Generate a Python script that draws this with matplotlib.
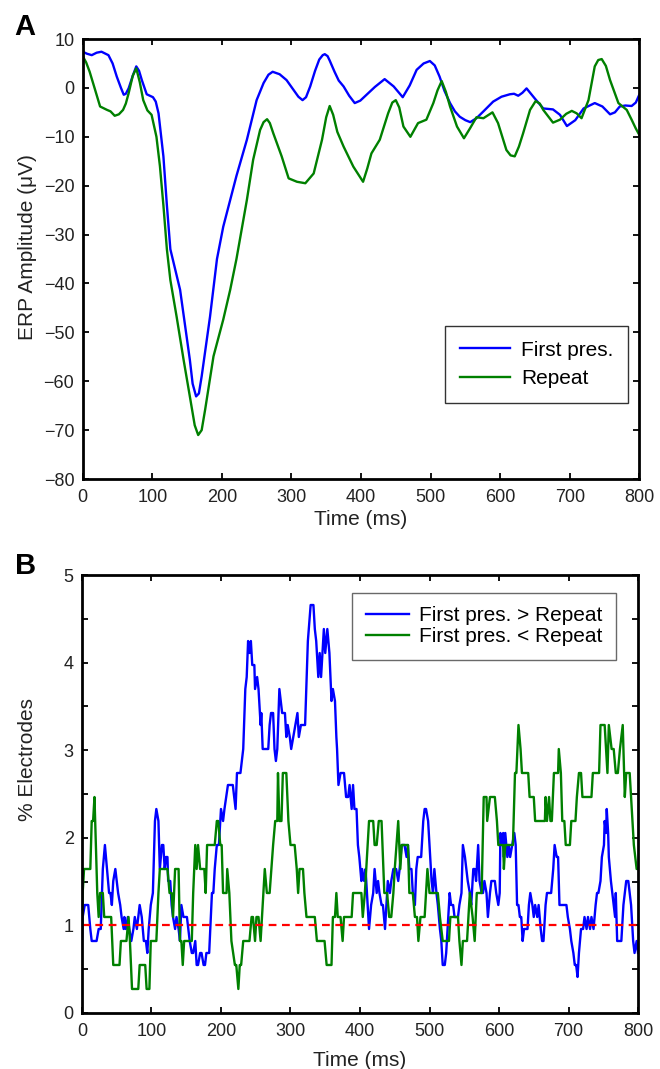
import numpy as np
import matplotlib
matplotlib.use('Agg')
import matplotlib.pyplot as plt

plt.rcParams['font.family'] = ['Liberation Sans', 'DejaVu Sans']

# ---- panel A: grand-average ERP (uV) ----
first_t = [0, 6, 13, 20, 27, 37, 43, 49, 55, 59, 62, 66, 72, 77, 81, 85, 92, 101, 105, 109,
           116, 121, 126, 140, 154, 158, 163, 167, 171, 183, 193, 202, 221, 236, 250, 260,
           267, 273, 283, 293, 303, 310, 316, 321, 327, 334, 340, 345, 348, 352, 355, 362,
           368, 375, 383, 391, 399, 408, 420, 434, 447, 460, 470, 480, 490, 499, 506, 513,
           520, 528, 535, 542, 550, 557, 566, 576, 590, 602, 614, 620, 626, 632, 638, 650,
           662, 676, 686, 696, 708, 720, 736, 747, 758, 765, 772, 780, 789, 795, 800]
first_v = [7.4, 7.0, 6.7, 7.2, 7.4, 6.7, 5.0, 2.3, 0.0, -1.4, -1.2, -0.1, 2.5, 4.4, 3.5,
           1.6, -1.3, -1.9, -2.8, -5.2, -14, -24, -33, -41.3, -55.6, -60.5, -63.1, -62.5,
           -59, -46.8, -35, -28.4, -18, -10.6, -2.5, 1, 2.7, 3.3, 2.8, 1.6, -0.4, -1.8,
           -2.5, -1.9, 0.3, 3.5, 5.8, 6.7, 6.9, 6.5, 5.6, 3.3, 1.5, 0.3, -1.6, -3.1, -2.6,
           -1.4, 0.2, 1.8, 0.3, -1.9, 0.5, 3.7, 5.0, 5.5, 4.6, 2.3, -0.6, -3.1, -4.8, -5.9,
           -6.6, -7, -6.2, -4.8, -2.8, -1.8, -1.3, -1.2, -1.6, -1.0, -0.1, -2.2, -4.2,
           -4.4, -5.5, -7.8, -6.6, -4.2, -3.1, -3.8, -5.4, -5.0, -3.8, -3.6, -3.7, -3.0,
           -1.4]

rep_t = [0, 5, 10, 17, 25, 35, 40, 46, 52, 58, 62, 66, 72, 77, 82, 87, 93, 99, 106, 111,
         116, 121, 126, 135, 145, 154, 161, 166, 171, 176, 188, 202, 212, 221, 236, 245,
         255, 260, 265, 269, 274, 286, 296, 308, 320, 332, 344, 350, 355, 360, 366, 375,
         389, 403, 409, 415, 427, 439, 445, 450, 455, 461, 471, 482, 494, 504, 510, 516,
         522, 528, 538, 548, 557, 566, 576, 589, 597, 609, 615, 621, 627, 633, 643, 651,
         657, 662, 676, 686, 695, 703, 710, 717, 727, 736, 741, 746, 752, 758, 770, 782,
         789, 795, 800]
rep_v = [6.5, 5.2, 3.3, 0.0, -3.8, -4.5, -4.8, -5.7, -5.4, -4.5, -3.2, -1.1, 2.5, 4, 1.2,
         -2.5, -4.6, -5.5, -10, -16, -24, -33, -39.3, -46.8, -55.6, -63.1, -69, -71, -70,
         -65.8, -54.9, -47.4, -41.3, -35, -22.9, -14.7, -8.6, -7.0, -6.4, -7.2, -9.3, -14,
         -18.5, -19.2, -19.5, -17.5, -10.6, -6.0, -3.7, -5.5, -9.0, -12, -16.1, -19.2,
         -16.5, -13.4, -10.6, -5.2, -3.0, -2.5, -4.0, -7.9, -10, -7.2, -6.5, -3.1, -0.5,
         1.4, -0.8, -3.8, -7.9, -10.3, -8.2, -6, -6.2, -5, -7.2, -12.7, -13.8, -14,
         -12.0, -9.3, -4.5, -2.7, -3.2, -4.5, -7.1, -6.5, -5.3, -4.7, -5.2, -6.2, -2.5,
         4.4, 5.7, 5.9, 4.5, 1.6, -3.1, -4.5, -6.5, -8.3, -9.6]

# ---- panel B: electrode counts (1 count = 100/730 %) ----
n_total = 730
gt_t = [0, 1, 4, 9, 12, 14, 21, 24, 27, 30, 33, 36, 39, 41, 43, 45, 48, 50, 52, 55, 57, 60,
        61, 63, 66, 68, 71, 74, 76, 79, 83, 86, 89, 92, 94, 96, 99, 102, 105, 107, 110,
        112, 115, 117, 119, 121, 123, 124, 127, 129, 131, 134, 136, 139, 141, 143, 146,
        148, 151, 153, 155, 158, 160, 163, 165, 167, 170, 172, 175, 177, 179, 183, 187,
        189, 191, 194, 197, 200, 203, 205, 210, 217, 221, 223, 228, 232, 235, 237, 239,
        241, 243, 245, 248, 249, 252, 254, 257, 258, 260, 268, 270, 272, 275, 277, 279,
        281, 284, 286, 288, 292, 294, 296, 299, 301, 304, 307, 310, 312, 315, 321, 325,
        329, 333, 335, 337, 340, 342, 344, 347, 348, 350, 353, 356, 359, 361, 364, 366,
        367, 369, 372, 377, 380, 383, 385, 388, 390, 392, 395, 397, 399, 402, 403, 406,
        408, 411, 413, 416, 419, 421, 424, 426, 428, 431, 433, 436, 438, 440, 443, 445,
        448, 452, 455, 457, 460, 464, 467, 469, 471, 474, 476, 479, 481, 483, 488, 491,
        493, 495, 498, 500, 503, 505, 507, 510, 512, 515, 517, 519, 522, 524, 527, 529,
        531, 534, 536, 541, 543, 546, 548, 551, 553, 555, 558, 560, 563, 565, 567, 570,
        572, 575, 577, 579, 582, 584, 587, 589, 594, 596, 599, 601, 602, 604, 606, 607,
        609, 612, 614, 616, 619, 622, 624, 626, 628, 630, 632, 634, 636, 641, 643, 645,
        648, 650, 652, 655, 657, 660, 662, 664, 667, 669, 675, 678, 680, 683, 685, 687,
        697, 699, 702, 704, 707, 709, 711, 713, 715, 718, 721, 723, 726, 728, 731, 733,
        736, 739, 741, 743, 746, 748, 751, 752, 754, 755, 757, 758, 761, 763, 765, 767,
        768, 770, 776, 779, 781, 783, 786, 788, 790, 793, 795, 798, 800]
gt_n = [6, 8, 9, 9, 7, 6, 6, 7, 7, 12, 14, 12, 10, 10, 9, 11, 12, 11, 10, 9, 8, 7,
        8, 7, 8, 7, 6, 7, 8, 7, 9, 8, 6, 6, 5, 7, 9, 10, 16, 17, 16,
        12, 14, 14, 12, 13, 13, 11, 11, 9, 8, 7, 8, 7, 6, 9, 8,
        8, 8, 7, 6, 5, 5, 6, 4, 4, 5, 5, 4, 4, 5, 5, 10,
        10, 12, 14, 14, 17, 16, 17, 19, 19, 17, 20, 20, 22, 27, 28, 31,
        30, 31, 29, 29, 27, 28, 27, 24, 25, 22, 22, 24, 25, 25, 22, 21,
        22, 27, 26, 25, 25, 23, 24, 23, 22, 23, 24, 25, 23, 24, 24, 31,
        34, 34, 32, 31, 28, 30, 28, 31, 32, 30, 32, 30, 26, 27, 26, 23,
        22, 19, 20, 20, 18, 18, 19, 17, 19, 17, 17, 14, 13, 11, 12, 11,
        12, 9, 7, 9, 10, 12, 10, 11, 10, 9, 9, 7, 9, 11, 10, 11,
        12, 12, 11, 12, 14, 14, 13, 14, 12, 12, 10, 9, 12, 13, 13, 16,
        17, 17, 16, 14, 11, 10, 12, 10, 9, 7, 6, 4, 4, 5, 8, 10,
        9, 9, 8, 8, 9, 10, 14, 13, 12, 11, 10, 9, 12, 12, 11, 14,
        11, 10, 10, 11, 10, 8, 10, 11, 11, 10, 9, 10, 15, 14, 15, 13,
        15, 13, 14, 13, 14, 15, 14, 9, 9, 8, 8, 6, 7, 7, 9, 10,
        9, 8, 9, 8, 9, 7, 6, 6, 9, 10, 10, 12, 14, 13, 13, 9,
        9, 8, 7, 6, 5, 4, 4, 3, 5, 7, 7, 8, 7, 8, 7, 8,
        7, 9, 10, 10, 11, 13, 14, 16, 15, 17, 15, 13, 11, 10, 9, 8,
        10, 6, 6, 9, 10, 11, 11, 10, 9, 6, 5, 6, 5]

lt_t = [0, 1, 3, 12, 14, 16, 18, 19, 22, 24, 26, 30, 32, 42, 45, 54, 56, 64, 67, 69, 72,
        81, 83, 91, 93, 97, 99, 107, 110, 112, 123, 126, 129, 131, 134, 139, 141, 143,
        145, 147, 158, 160, 163, 165, 167, 170, 176, 178, 180, 191, 194, 196, 199, 201,
        203, 208, 209, 212, 215, 220, 222, 225, 227, 229, 232, 241, 244, 246, 249, 251,
        254, 257, 259, 263, 266, 270, 275, 278, 281, 282, 284, 287, 289, 294, 297, 300,
        306, 309, 311, 313, 318, 320, 323, 335, 338, 349, 352, 359, 361, 364, 366, 368,
        372, 375, 377, 388, 390, 402, 404, 407, 413, 419, 421, 424, 427, 431, 435, 439,
        442, 445, 448, 450, 455, 458, 460, 469, 471, 476, 479, 482, 484, 487, 493, 497,
        500, 512, 515, 519, 528, 530, 541, 543, 546, 548, 554, 558, 562, 565, 568, 575,
        578, 582, 583, 587, 594, 597, 599, 606, 607, 609, 620, 623, 625, 628, 631, 633,
        642, 644, 650, 652, 666, 667, 669, 672, 674, 676, 679, 685, 686, 689, 691, 694,
        696, 702, 704, 710, 712, 715, 718, 720, 733, 735, 744, 746, 752, 756, 758, 762,
        765, 768, 771, 774, 778, 781, 783, 788, 790, 794, 798, 800]
lt_n = [8, 10, 12, 12, 16, 16, 18, 16, 10, 8, 10, 10, 8, 8, 4, 4, 6, 6, 8, 6, 2,
        2, 4, 4, 2, 2, 6, 6, 10, 12, 12, 10, 10, 8, 12, 12, 6, 6,
        4, 6, 6, 10, 14, 12, 14, 12, 12, 10, 14, 14, 16, 16, 14, 14,
        10, 10, 12, 10, 6, 4, 4, 2, 4, 4, 6, 6, 8, 8, 6, 8,
        8, 6, 8, 12, 10, 10, 14, 16, 16, 20, 16, 16, 20, 20, 16, 14,
        14, 12, 10, 12, 12, 10, 8, 8, 6, 6, 4, 4, 8, 8, 10, 8,
        8, 6, 8, 8, 10, 10, 8, 10, 16, 16, 14, 14, 16, 16, 10, 10,
        8, 8, 10, 12, 16, 12, 14, 14, 10, 10, 8, 8, 6, 8, 8, 12,
        10, 10, 8, 6, 6, 8, 8, 6, 4, 6, 6, 10, 8, 6, 10, 10,
        18, 18, 16, 18, 18, 16, 14, 14, 12, 14, 14, 20, 20, 24, 22, 20,
        20, 18, 18, 16, 16, 18, 16, 18, 16, 16, 20, 20, 22, 20, 16, 16,
        14, 14, 16, 16, 18, 20, 20, 18, 18, 20, 20, 24, 24, 20, 24, 22,
        22, 20, 20, 22, 24, 18, 20, 20, 18, 14, 12, 12]

tick_c = '#222222'


def style_axes(ax):
    for s in ax.spines.values():
        s.set_linewidth(2.0)
        s.set_color('black')
    ax.tick_params(which='both', direction='in', top=True, right=True, length=4,
                   width=1.3, labelsize=13, colors='black', labelcolor=tick_c)
    ax.tick_params(axis='y', pad=6)
    ax.tick_params(axis='x', pad=7)


fig = plt.figure(figsize=(6.6, 10.69), dpi=100)

# panel A
axA = fig.add_axes([0.1253, 0.5519, 0.8433, 0.4116])
axA.plot(first_t, first_v, color='#0000ff', lw=1.7, label='First pres.')
axA.plot(rep_t, rep_v, color='#008000', lw=1.7, label='Repeat')
axA.set_xlim(0, 800)
axA.set_ylim(-80, 10)
axA.set_xticks(np.arange(0, 801, 100))
axA.set_yticks(np.arange(-80, 11, 10))
style_axes(axA)
axA.set_xlabel('Time (ms)', fontsize=15, color=tick_c, labelpad=3)
axA.set_ylabel('ERP Amplitude (\u03bcV)', fontsize=15, color=tick_c)
axA.yaxis.set_label_coords(-0.082, 0.527)
legA = axA.legend(loc='lower right', bbox_to_anchor=(0.98, 0.173), fontsize=15,
                  frameon=True, fancybox=False, handlelength=2.4, handletextpad=0.5,
                  labelspacing=0.45, borderpad=0.72, borderaxespad=0)
legA.get_frame().set_edgecolor('black')
legA.get_frame().set_linewidth(1.0)
fig.text(0.022, 0.975, 'A', fontsize=21, fontweight='bold', va='center')

# panel B
pct = 100.0 / n_total
axB = fig.add_axes([0.1242, 0.0524, 0.8425, 0.4097])
axB.plot(gt_t, np.array(gt_n) * pct, color='#0000ff', lw=1.7,
         label='First pres. > Repeat')
axB.plot(lt_t, np.array(lt_n) * pct, color='#008000', lw=1.7,
         label='First pres. < Repeat')
axB.axhline(1, color='#ff0000', lw=1.6, ls=(0, (3.5, 2.5)))
axB.set_xlim(0, 800)
axB.set_ylim(0, 5)
axB.set_xticks(np.arange(0, 801, 100))
axB.set_yticks(np.arange(0, 6, 1))
axB.set_yticks(np.arange(0.5, 5, 1), minor=True)
style_axes(axB)
axB.set_xlabel('Time (ms)', fontsize=15, color=tick_c, labelpad=8)
axB.set_ylabel('% Electrodes', fontsize=15, color=tick_c)
axB.yaxis.set_label_coords(-0.081, 0.578)
legB = axB.legend(loc='upper right', bbox_to_anchor=(0.96, 0.96), fontsize=15,
                  frameon=True, fancybox=False, handlelength=2.1, handletextpad=0.45,
                  labelspacing=0.1, borderpad=0.65, borderaxespad=0)
legB.get_frame().set_edgecolor('#444444')
legB.get_frame().set_linewidth(1.0)
fig.text(0.022, 0.471, 'B', fontsize=21, fontweight='bold', va='center')

fig.savefig('out.png', dpi=100)
